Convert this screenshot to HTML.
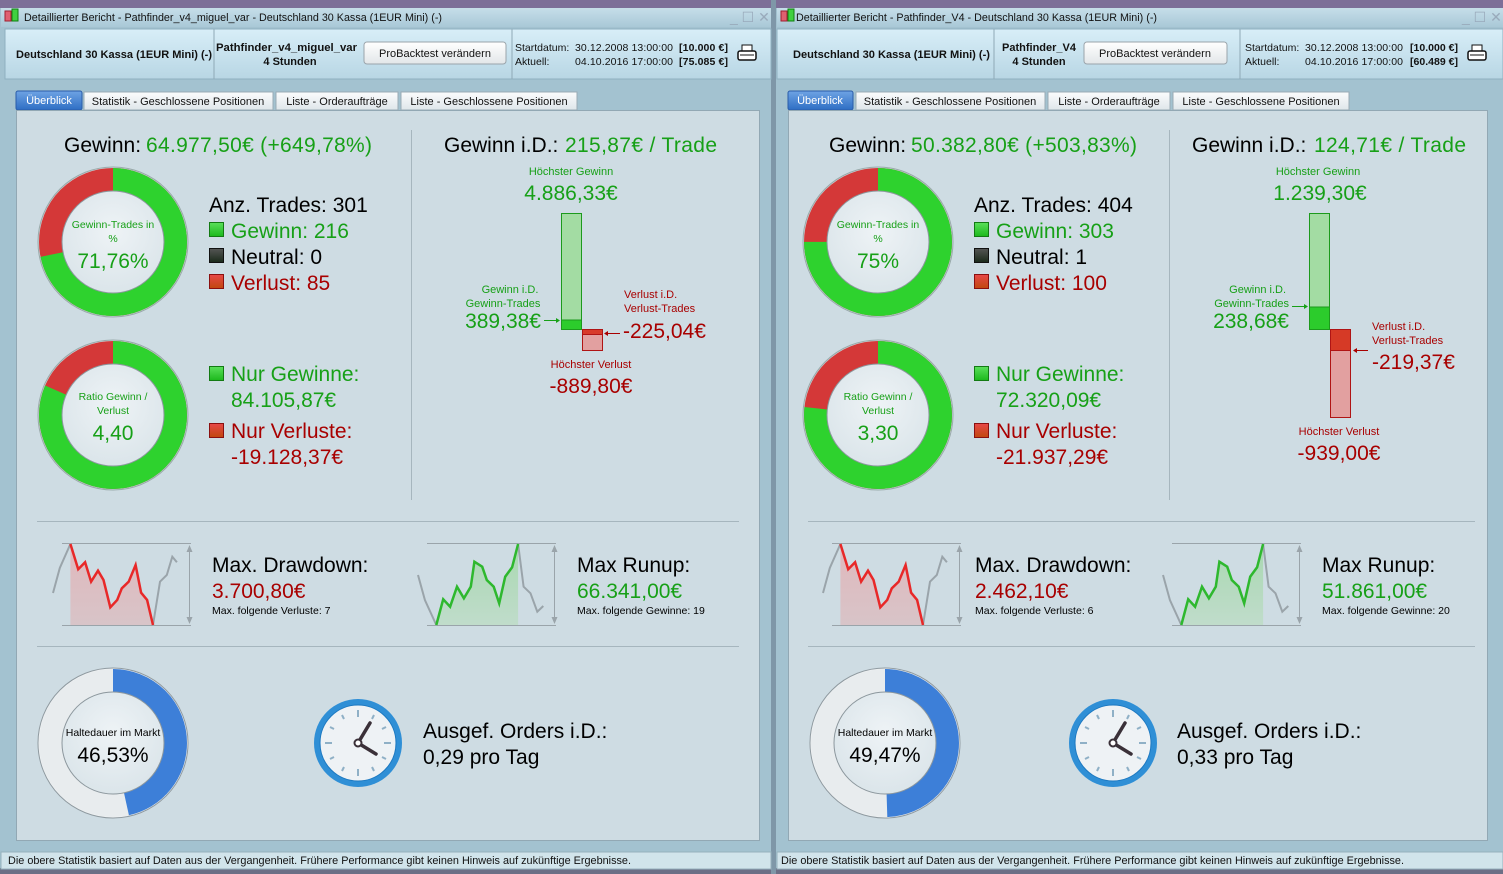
<!DOCTYPE html>
<html><head><meta charset="utf-8"><style>
html,body{margin:0;padding:0;width:1503px;height:874px;overflow:hidden;background:#a4c1cf}
svg{display:block;font-family:"Liberation Sans",Arial,sans-serif}
</style></head><body>
<svg width="1503" height="874" viewBox="0 0 1503 874" xmlns="http://www.w3.org/2000/svg">
<defs>
<linearGradient id="tb" x1="0" y1="0" x2="0" y2="1"><stop offset="0" stop-color="#c6dee9"/><stop offset="1" stop-color="#a9c8d7"/></linearGradient>
<linearGradient id="hp" x1="0" y1="0" x2="0" y2="1"><stop offset="0" stop-color="#d8eef8"/><stop offset="1" stop-color="#b8d6e4"/></linearGradient>
<linearGradient id="btn" x1="0" y1="0" x2="0" y2="1"><stop offset="0" stop-color="#ffffff"/><stop offset="1" stop-color="#e2e6e9"/></linearGradient>
<linearGradient id="tab" x1="0" y1="0" x2="0" y2="1"><stop offset="0" stop-color="#fbfcfd"/><stop offset="1" stop-color="#dfe6ea"/></linearGradient>
<linearGradient id="tabA" x1="0" y1="0" x2="0" y2="1"><stop offset="0" stop-color="#6ea3e4"/><stop offset="1" stop-color="#2e6ec4"/></linearGradient>
<linearGradient id="gsq" x1="0" y1="0" x2="0" y2="1"><stop offset="0" stop-color="#5be05b"/><stop offset="1" stop-color="#1cb81c"/></linearGradient>
<linearGradient id="rsq" x1="0" y1="0" x2="0" y2="1"><stop offset="0" stop-color="#e84848"/><stop offset="1" stop-color="#c0480e"/></linearGradient>
<linearGradient id="nsq" x1="0" y1="0" x2="0" y2="1"><stop offset="0" stop-color="#555"/><stop offset="1" stop-color="#1a2a1a"/></linearGradient>
<radialGradient id="inner" cx="0.5" cy="0.4" r="0.6"><stop offset="0" stop-color="#eef3f6"/><stop offset="1" stop-color="#dbe5ea"/></radialGradient>
<linearGradient id="ddf" x1="0" y1="0" x2="0" y2="1"><stop offset="0" stop-color="#e0b8bc"/><stop offset="1" stop-color="#d8c4c8"/></linearGradient>
<linearGradient id="ruf" x1="0" y1="0" x2="0" y2="1"><stop offset="0" stop-color="#a8d8b0"/><stop offset="1" stop-color="#c0dccb"/></linearGradient>
</defs>

<!-- desktop strips -->
<rect x="0" y="0" width="1503" height="8" fill="#7d6f98"/>
<rect x="0" y="868" width="1503" height="6" fill="#6c6f86"/>
<rect x="771" y="0" width="5" height="874" fill="#7f97a8"/>

<!-- ================= LEFT WINDOW ================= -->
<rect x="0" y="8" width="771" height="860" fill="#a3c2d0"/>
<rect x="1" y="8" width="770" height="19" fill="url(#tb)"/>
<rect x="5" y="11" width="6" height="10" fill="#e06070" stroke="#a02030" stroke-width="1"/>
<rect x="12" y="9" width="6" height="12" fill="#40d040" stroke="#108010" stroke-width="1"/>
<text x="24" y="21" font-size="11" fill="#111" textLength="418" lengthAdjust="spacingAndGlyphs">Detaillierter Bericht - Pathfinder_v4_miguel_var - Deutschland 30 Kassa (1EUR Mini) (-)</text>
<text x="730" y="22" font-size="14" fill="#9ab">_ ☐ ✕</text>

<rect x="5" y="29" width="766" height="50" fill="url(#hp)" stroke="#8fb0c0"/>
<line x1="214" y1="29" x2="214" y2="79" stroke="#8fa9b6"/>
<line x1="512" y1="29" x2="512" y2="79" stroke="#8fa9b6"/>
<text x="16" y="58" font-size="11" font-weight="bold" fill="#111" textLength="196" lengthAdjust="spacingAndGlyphs">Deutschland 30 Kassa (1EUR Mini) (-)</text>
<text x="216" y="51" font-size="11" font-weight="bold" fill="#111" textLength="141" lengthAdjust="spacingAndGlyphs">Pathfinder_v4_miguel_var</text>
<text x="290" y="65" font-size="11" font-weight="bold" fill="#111" text-anchor="middle">4 Stunden</text>
<rect x="364" y="42" width="142" height="22" rx="3" fill="url(#btn)" stroke="#9aa4aa"/>
<text x="435" y="57" font-size="11" fill="#111" text-anchor="middle">ProBacktest verändern</text>
<text x="515" y="51" font-size="10.5" fill="#111">Startdatum:</text>
<text x="515" y="65" font-size="10.5" fill="#111">Aktuell:</text>
<text x="575" y="51" font-size="10.5" fill="#111" textLength="98">30.12.2008 13:00:00</text>
<text x="575" y="65" font-size="10.5" fill="#111" textLength="98">04.10.2016 17:00:00</text>
<text x="679" y="51" font-size="10.5" font-weight="bold" fill="#111" textLength="49">[10.000 €]</text>
<text x="679" y="65" font-size="10.5" font-weight="bold" fill="#111" textLength="49">[75.085 €]</text>
<g transform="translate(738,45)"><rect x="4" y="0" width="10" height="7" fill="#fff" stroke="#111"/><rect x="0" y="6" width="18" height="9" rx="2" fill="#fff" stroke="#111" stroke-width="1.5"/><line x1="2" y1="10" x2="16" y2="10" stroke="#111"/></g>

<!-- tabs -->
<rect x="16" y="91" width="66" height="19" rx="2" fill="url(#tabA)" stroke="#2a5ca8"/>
<text x="49" y="104" font-size="11" fill="#fff" text-anchor="middle">Überblick</text>
<rect x="84" y="92" width="189" height="18" fill="url(#tab)" stroke="#9aabb5"/>
<text x="178" y="105" font-size="11" fill="#111" text-anchor="middle">Statistik - Geschlossene Positionen</text>
<rect x="276" y="92" width="122" height="18" fill="url(#tab)" stroke="#9aabb5"/>
<text x="337" y="105" font-size="11" fill="#111" text-anchor="middle">Liste - Orderaufträge</text>
<rect x="401" y="92" width="176" height="18" fill="url(#tab)" stroke="#9aabb5"/>
<text x="489" y="105" font-size="11" fill="#111" text-anchor="middle">Liste - Geschlossene Positionen</text>

<rect x="16.5" y="110.5" width="743" height="730" fill="#cedce3" stroke="#92a8b4"/>
<rect x="1" y="852" width="770" height="17" fill="#d1e4eb" stroke="#96b1bd"/>
<text x="8" y="864" font-size="11" fill="#111" textLength="623" lengthAdjust="spacingAndGlyphs">Die obere Statistik basiert auf Daten aus der Vergangenheit. Frühere Performance gibt keinen Hinweis auf zukünftige Ergebnisse.</text>

<line x1="411.5" y1="130" x2="411.5" y2="500" stroke="#a6b6be"/>
<line x1="37" y1="521.5" x2="739" y2="521.5" stroke="#a6b6be"/>
<line x1="37" y1="646.5" x2="739" y2="646.5" stroke="#a6b6be"/>

<!-- top-left block L -->
<g id="tlL">
<text x="64" y="152" font-size="21" fill="#000">Gewinn:</text>
<text x="146" y="152" font-size="21" fill="#17a017" textLength="226">64.977,50€ (+649,78%)</text>
<circle cx="113" cy="242" r="75" fill="#ccd6dc" stroke="#9aa" />
<circle cx="113" cy="242" r="62.5" fill="none" stroke="#d43838" stroke-width="23"/>
<circle cx="113" cy="242" r="62.5" fill="none" stroke="#2ed22e" stroke-width="23" stroke-dasharray="281.8 400" transform="rotate(-90 113 242)"/>
<circle cx="113" cy="242" r="51" fill="url(#inner)" stroke="#8c979d"/>
<text x="113" y="228" font-size="10.5" fill="#17a017" text-anchor="middle">Gewinn-Trades in</text>
<text x="113" y="242" font-size="10.5" fill="#17a017" text-anchor="middle">%</text>
<text x="113" y="268" font-size="21" fill="#17a017" text-anchor="middle">71,76%</text>
<text x="209" y="212" font-size="21" fill="#000">Anz. Trades: 301</text>
<rect x="209.5" y="222.5" width="14" height="14" fill="url(#gsq)" stroke="#137a13"/>
<text x="231" y="238" font-size="21" fill="#17a017">Gewinn: 216</text>
<rect x="209.5" y="248.5" width="14" height="14" fill="url(#nsq)" stroke="#111"/>
<text x="231" y="264" font-size="21" fill="#000">Neutral: 0</text>
<rect x="209.5" y="274.5" width="14" height="14" fill="url(#rsq)" stroke="#8a1010"/>
<text x="231" y="290" font-size="21" fill="#a80000">Verlust: 85</text>

<circle cx="113" cy="415" r="75" fill="#ccd6dc" stroke="#9aa"/>
<circle cx="113" cy="415" r="62.5" fill="none" stroke="#d43838" stroke-width="23"/>
<circle cx="113" cy="415" r="62.5" fill="none" stroke="#2ed22e" stroke-width="23" stroke-dasharray="320 400" transform="rotate(-90 113 415)"/>
<circle cx="113" cy="415" r="51" fill="url(#inner)" stroke="#8c979d"/>
<text x="113" y="400" font-size="10.5" fill="#17a017" text-anchor="middle">Ratio Gewinn /</text>
<text x="113" y="414" font-size="10.5" fill="#17a017" text-anchor="middle">Verlust</text>
<text x="113" y="440" font-size="21" fill="#17a017" text-anchor="middle">4,40</text>
<rect x="209.5" y="366.5" width="14" height="14" fill="url(#gsq)" stroke="#137a13"/>
<text x="231" y="381" font-size="21" fill="#17a017">Nur Gewinne:</text>
<text x="231" y="407" font-size="21" fill="#17a017">84.105,87€</text>
<rect x="209.5" y="423.5" width="14" height="14" fill="url(#rsq)" stroke="#8a1010"/>
<text x="231" y="438" font-size="21" fill="#a80000">Nur Verluste:</text>
<text x="231" y="464" font-size="21" fill="#a80000">-19.128,37€</text>
</g>

<!-- bar chart L -->
<text x="444" y="152" font-size="21" fill="#000">Gewinn i.D.:</text>
<text x="565" y="152" font-size="21" fill="#17a017" textLength="152">215,87€ / Trade</text>
<text x="571" y="175" font-size="11" fill="#17a017" text-anchor="middle">Höchster Gewinn</text>
<text x="571" y="200" font-size="21" fill="#17a017" text-anchor="middle">4.886,33€</text>
<rect x="561.5" y="213.5" width="20" height="116" fill="#a3dca3" stroke="#1c9a1c"/>
<rect x="562" y="320" width="19" height="9" fill="#2ccc2c"/>
<line x1="561" y1="320" x2="582" y2="320" stroke="#1c9a1c"/>
<rect x="582.5" y="329.5" width="20" height="21" fill="#e2a0a0" stroke="#b01414"/>
<rect x="583" y="330" width="19" height="4.5" fill="#d83a2a"/>
<line x1="582" y1="334.5" x2="603" y2="334.5" stroke="#b01414"/>
<text x="510" y="293" font-size="11" fill="#17a017" text-anchor="middle">Gewinn i.D.</text>
<text x="503" y="307" font-size="11" fill="#17a017" text-anchor="middle">Gewinn-Trades</text>
<text x="541" y="328" font-size="21" fill="#17a017" text-anchor="end">389,38€</text>
<line x1="544" y1="320.5" x2="558" y2="320.5" stroke="#17a017"/><path d="M556 318 L560 320.5 L556 323 Z" fill="#17a017"/>
<text x="624" y="298" font-size="11" fill="#a80000">Verlust i.D.</text>
<text x="624" y="312" font-size="11" fill="#a80000">Verlust-Trades</text>
<text x="623" y="338" font-size="21" fill="#a80000">-225,04€</text>
<line x1="606" y1="333.5" x2="620" y2="333.5" stroke="#a80000"/><path d="M608 331 L604 333.5 L608 336 Z" fill="#a80000"/>
<text x="591" y="368" font-size="11" fill="#a80000" text-anchor="middle">Höchster Verlust</text>
<text x="591" y="393" font-size="21" fill="#a80000" text-anchor="middle">-889,80€</text>

<!-- drawdown L -->
<g id="ddL">
<line x1="62" y1="543.5" x2="191" y2="543.5" stroke="#9aa4aa"/>
<line x1="62" y1="625.5" x2="191" y2="625.5" stroke="#9aa4aa"/>
<line x1="189.5" y1="546" x2="189.5" y2="623" stroke="#9aa4aa"/>
<path d="M186.5 552 L189.5 545 L192.5 552 Z M186.5 617 L189.5 624 L192.5 617 Z" fill="#9aa4aa"/>
<polygon points="70.4,544 78.2,569.3 85.1,562.3 91.1,581.7 98,570.7 103.5,580 110.3,607.3 117.2,600 121.8,588.3 128.7,581.7 135.6,565 141.1,592.7 147.1,600 153,625 70.4,625" fill="url(#ddf)"/>
<polyline points="53,593 59.8,568 70.4,544" fill="none" stroke="#9aa4aa" stroke-width="2"/>
<polyline points="153,625 160,581.7 166.8,575 172.3,556.7 176.9,562.3" fill="none" stroke="#9aa4aa" stroke-width="2"/>
<polyline points="70.4,544 78.2,569.3 85.1,562.3 91.1,581.7 98,570.7 103.5,580 110.3,607.3 117.2,600 121.8,588.3 128.7,581.7 135.6,565 141.1,592.7 147.1,600 153,625" fill="none" stroke="#e82828" stroke-width="2.5"/>
</g>
<text x="212" y="572" font-size="21" fill="#000">Max. Drawdown:</text>
<text x="212" y="598" font-size="21" fill="#a80000">3.700,80€</text>
<text x="212" y="614" font-size="10.5" fill="#000">Max. folgende Verluste: 7</text>

<!-- runup L -->
<g id="ruL">
<line x1="427" y1="543.5" x2="556" y2="543.5" stroke="#9aa4aa"/>
<line x1="427" y1="625.5" x2="556" y2="625.5" stroke="#9aa4aa"/>
<line x1="554.5" y1="546" x2="554.5" y2="623" stroke="#9aa4aa"/>
<path d="M551.5 552 L554.5 545 L557.5 552 Z M551.5 617 L554.5 624 L557.5 617 Z" fill="#9aa4aa"/>
<polygon points="436.3,625 443.2,599.3 450.1,606.7 457,586.7 463.9,598.3 470.8,586.7 474.4,561.7 482.2,566.7 486.8,580 493.7,586.7 499.2,603.3 505.2,576.7 512.1,567.3 518.1,544 518.1,625" fill="url(#ruf)"/>
<polyline points="418,575 424.9,600 436.3,625" fill="none" stroke="#9aa4aa" stroke-width="2"/>
<polyline points="518.1,544 523.6,586.7 530.5,593.3 537.3,611.7 543.3,606" fill="none" stroke="#9aa4aa" stroke-width="2"/>
<polyline points="436.3,625 443.2,599.3 450.1,606.7 457,586.7 463.9,598.3 470.8,586.7 474.4,561.7 482.2,566.7 486.8,580 493.7,586.7 499.2,603.3 505.2,576.7 512.1,567.3 518.1,544" fill="none" stroke="#2eb82e" stroke-width="2.5"/>
</g>
<text x="577" y="572" font-size="21" fill="#000">Max Runup:</text>
<text x="577" y="598" font-size="21" fill="#17a017">66.341,00€</text>
<text x="577" y="614" font-size="10.5" fill="#000">Max. folgende Gewinne: 19</text>

<!-- haltedauer L -->
<g id="hdL">
<circle cx="113" cy="743" r="75" fill="#f2f4f5" stroke="#8f9aa0"/>
<circle cx="113" cy="743" r="62.5" fill="none" stroke="#e8ecee" stroke-width="23"/>
<circle cx="113" cy="743" r="62.5" fill="none" stroke="#3d7fd8" stroke-width="23" stroke-dasharray="182.7 400" transform="rotate(-90 113 743)"/>
<circle cx="113" cy="743" r="51" fill="url(#inner)" stroke="#8c979d"/>
</g>
<text x="113" y="736" font-size="10.5" fill="#000" text-anchor="middle">Haltedauer im Markt</text>
<text x="113" y="762" font-size="21" fill="#000" text-anchor="middle">46,53%</text>

<!-- clock L -->
<g id="ckL" transform="translate(358,743)">
<circle r="44" fill="#2f8fd6"/>
<circle r="38" fill="#eef2f5" stroke="#1c78c0"/>
<g stroke="#8fb0c6" stroke-width="2">
<line x1="0" y1="-33" x2="0" y2="-26"/><line x1="0" y1="33" x2="0" y2="26"/><line x1="-33" y1="0" x2="-26" y2="0"/><line x1="33" y1="0" x2="26" y2="0"/>
<line x1="16" y1="-28" x2="14" y2="-24"/><line x1="28" y1="-16" x2="24" y2="-14"/><line x1="28" y1="16" x2="24" y2="14"/><line x1="16" y1="28" x2="14" y2="24"/>
<line x1="-16" y1="28" x2="-14" y2="24"/><line x1="-28" y1="16" x2="-24" y2="14"/><line x1="-28" y1="-16" x2="-24" y2="-14"/><line x1="-16" y1="-28" x2="-14" y2="-24"/>
</g>
<line x1="0" y1="0" x2="12" y2="-20" stroke="#3a3038" stroke-width="3.5" stroke-linecap="round"/>
<line x1="0" y1="0" x2="18" y2="11" stroke="#3a3038" stroke-width="3.5" stroke-linecap="round"/>
<circle r="3.5" fill="#fff" stroke="#3a3038" stroke-width="2"/>
</g>
<text x="423" y="738" font-size="21" fill="#000">Ausgef. Orders i.D.:</text>
<text x="423" y="764" font-size="21" fill="#000">0,29 pro Tag</text>

<!-- ================= RIGHT WINDOW ================= -->
<rect x="776" y="8" width="727" height="860" fill="#a3c2d0"/>
<rect x="777" y="8" width="726" height="19" fill="url(#tb)"/>
<rect x="781" y="11" width="6" height="10" fill="#e06070" stroke="#a02030"/>
<rect x="788" y="9" width="6" height="12" fill="#40d040" stroke="#108010"/>
<text x="796" y="21" font-size="11" fill="#111" textLength="361" lengthAdjust="spacingAndGlyphs">Detaillierter Bericht - Pathfinder_V4 - Deutschland 30 Kassa (1EUR Mini) (-)</text>
<text x="1462" y="22" font-size="14" fill="#9ab">_ ☐ ✕</text>

<rect x="777" y="29" width="726" height="50" fill="url(#hp)" stroke="#8fb0c0"/>
<line x1="994" y1="29" x2="994" y2="79" stroke="#8fa9b6"/>
<line x1="1240" y1="29" x2="1240" y2="79" stroke="#8fa9b6"/>
<text x="793" y="58" font-size="11" font-weight="bold" fill="#111" textLength="197" lengthAdjust="spacingAndGlyphs">Deutschland 30 Kassa (1EUR Mini) (-)</text>
<text x="1039" y="51" font-size="11" font-weight="bold" fill="#111" text-anchor="middle">Pathfinder_V4</text>
<text x="1039" y="65" font-size="11" font-weight="bold" fill="#111" text-anchor="middle">4 Stunden</text>
<rect x="1084" y="42" width="143" height="22" rx="3" fill="url(#btn)" stroke="#9aa4aa"/>
<text x="1155" y="57" font-size="11" fill="#111" text-anchor="middle">ProBacktest verändern</text>
<text x="1245" y="51" font-size="10.5" fill="#111">Startdatum:</text>
<text x="1245" y="65" font-size="10.5" fill="#111">Aktuell:</text>
<text x="1305" y="51" font-size="10.5" fill="#111" textLength="98">30.12.2008 13:00:00</text>
<text x="1305" y="65" font-size="10.5" fill="#111" textLength="98">04.10.2016 17:00:00</text>
<text x="1410" y="51" font-size="10.5" font-weight="bold" fill="#111" textLength="48">[10.000 €]</text>
<text x="1410" y="65" font-size="10.5" font-weight="bold" fill="#111" textLength="48">[60.489 €]</text>
<g transform="translate(1468,45)"><rect x="4" y="0" width="10" height="7" fill="#fff" stroke="#111"/><rect x="0" y="6" width="18" height="9" rx="2" fill="#fff" stroke="#111" stroke-width="1.5"/><line x1="2" y1="10" x2="16" y2="10" stroke="#111"/></g>

<rect x="788" y="91" width="65" height="19" rx="2" fill="url(#tabA)" stroke="#2a5ca8"/>
<text x="820" y="104" font-size="11" fill="#fff" text-anchor="middle">Überblick</text>
<rect x="856" y="92" width="189" height="18" fill="url(#tab)" stroke="#9aabb5"/>
<text x="950" y="105" font-size="11" fill="#111" text-anchor="middle">Statistik - Geschlossene Positionen</text>
<rect x="1048" y="92" width="122" height="18" fill="url(#tab)" stroke="#9aabb5"/>
<text x="1109" y="105" font-size="11" fill="#111" text-anchor="middle">Liste - Orderaufträge</text>
<rect x="1173" y="92" width="176" height="18" fill="url(#tab)" stroke="#9aabb5"/>
<text x="1261" y="105" font-size="11" fill="#111" text-anchor="middle">Liste - Geschlossene Positionen</text>

<rect x="788.5" y="110.5" width="699" height="730" fill="#cedce3" stroke="#92a8b4"/>
<rect x="777" y="852" width="726" height="17" fill="#d1e4eb" stroke="#96b1bd"/>
<text x="781" y="864" font-size="11" fill="#111" textLength="623" lengthAdjust="spacingAndGlyphs">Die obere Statistik basiert auf Daten aus der Vergangenheit. Frühere Performance gibt keinen Hinweis auf zukünftige Ergebnisse.</text>

<line x1="1169.5" y1="130" x2="1169.5" y2="500" stroke="#a6b6be"/>
<line x1="808" y1="521.5" x2="1475" y2="521.5" stroke="#a6b6be"/>
<line x1="808" y1="646.5" x2="1475" y2="646.5" stroke="#a6b6be"/>

<g transform="translate(765,0)">
<text x="64" y="152" font-size="21" fill="#000">Gewinn:</text>
<text x="146" y="152" font-size="21" fill="#17a017" textLength="226">50.382,80€ (+503,83%)</text>
<circle cx="113" cy="242" r="75" fill="#ccd6dc" stroke="#9aa"/>
<circle cx="113" cy="242" r="62.5" fill="none" stroke="#d43838" stroke-width="23"/>
<circle cx="113" cy="242" r="62.5" fill="none" stroke="#2ed22e" stroke-width="23" stroke-dasharray="294.5 400" transform="rotate(-90 113 242)"/>
<circle cx="113" cy="242" r="51" fill="url(#inner)" stroke="#8c979d"/>
<text x="113" y="228" font-size="10.5" fill="#17a017" text-anchor="middle">Gewinn-Trades in</text>
<text x="113" y="242" font-size="10.5" fill="#17a017" text-anchor="middle">%</text>
<text x="113" y="268" font-size="21" fill="#17a017" text-anchor="middle">75%</text>
<text x="209" y="212" font-size="21" fill="#000">Anz. Trades: 404</text>
<rect x="209.5" y="222.5" width="14" height="14" fill="url(#gsq)" stroke="#137a13"/>
<text x="231" y="238" font-size="21" fill="#17a017">Gewinn: 303</text>
<rect x="209.5" y="248.5" width="14" height="14" fill="url(#nsq)" stroke="#111"/>
<text x="231" y="264" font-size="21" fill="#000">Neutral: 1</text>
<rect x="209.5" y="274.5" width="14" height="14" fill="url(#rsq)" stroke="#8a1010"/>
<text x="231" y="290" font-size="21" fill="#a80000">Verlust: 100</text>
<circle cx="113" cy="415" r="75" fill="#ccd6dc" stroke="#9aa"/>
<circle cx="113" cy="415" r="62.5" fill="none" stroke="#d43838" stroke-width="23"/>
<circle cx="113" cy="415" r="62.5" fill="none" stroke="#2ed22e" stroke-width="23" stroke-dasharray="301.2 400" transform="rotate(-90 113 415)"/>
<circle cx="113" cy="415" r="51" fill="url(#inner)" stroke="#8c979d"/>
<text x="113" y="400" font-size="10.5" fill="#17a017" text-anchor="middle">Ratio Gewinn /</text>
<text x="113" y="414" font-size="10.5" fill="#17a017" text-anchor="middle">Verlust</text>
<text x="113" y="440" font-size="21" fill="#17a017" text-anchor="middle">3,30</text>
<rect x="209.5" y="366.5" width="14" height="14" fill="url(#gsq)" stroke="#137a13"/>
<text x="231" y="381" font-size="21" fill="#17a017">Nur Gewinne:</text>
<text x="231" y="407" font-size="21" fill="#17a017">72.320,09€</text>
<rect x="209.5" y="423.5" width="14" height="14" fill="url(#rsq)" stroke="#8a1010"/>
<text x="231" y="438" font-size="21" fill="#a80000">Nur Verluste:</text>
<text x="231" y="464" font-size="21" fill="#a80000">-21.937,29€</text>
</g>

<!-- bar chart R -->
<text x="1192" y="152" font-size="21" fill="#000">Gewinn i.D.:</text>
<text x="1314" y="152" font-size="21" fill="#17a017" textLength="152">124,71€ / Trade</text>
<text x="1318" y="175" font-size="11" fill="#17a017" text-anchor="middle">Höchster Gewinn</text>
<text x="1320" y="200" font-size="21" fill="#17a017" text-anchor="middle">1.239,30€</text>
<rect x="1309.5" y="213.5" width="20" height="116" fill="#a3dca3" stroke="#1c9a1c"/>
<rect x="1310" y="307" width="19" height="22" fill="#2ccc2c"/>
<line x1="1309" y1="307" x2="1330" y2="307" stroke="#1c9a1c"/>
<rect x="1330.5" y="329.5" width="20" height="88" fill="#e2a0a0" stroke="#b01414"/>
<rect x="1331" y="330" width="19" height="20.5" fill="#d63a26"/>
<line x1="1330" y1="350.5" x2="1351" y2="350.5" stroke="#b01414"/>
<text x="1286" y="293" font-size="11" fill="#17a017" text-anchor="end">Gewinn i.D.</text>
<text x="1289" y="307" font-size="11" fill="#17a017" text-anchor="end">Gewinn-Trades</text>
<text x="1289" y="328" font-size="21" fill="#17a017" text-anchor="end">238,68€</text>
<line x1="1292" y1="306.5" x2="1306" y2="306.5" stroke="#17a017"/><path d="M1304 304 L1308 306.5 L1304 309 Z" fill="#17a017"/>
<text x="1372" y="330" font-size="11" fill="#a80000">Verlust i.D.</text>
<text x="1372" y="344" font-size="11" fill="#a80000">Verlust-Trades</text>
<text x="1372" y="369" font-size="21" fill="#a80000">-219,37€</text>
<line x1="1355" y1="350.5" x2="1368" y2="350.5" stroke="#a80000"/><path d="M1357 348 L1353 350.5 L1357 353 Z" fill="#a80000"/>
<text x="1339" y="435" font-size="11" fill="#a80000" text-anchor="middle">Höchster Verlust</text>
<text x="1339" y="460" font-size="21" fill="#a80000" text-anchor="middle">-939,00€</text>

<use href="#ddL" transform="translate(770,0)"/>
<text x="975" y="572" font-size="21" fill="#000">Max. Drawdown:</text>
<text x="975" y="598" font-size="21" fill="#a80000">2.462,10€</text>
<text x="975" y="614" font-size="10.5" fill="#000">Max. folgende Verluste: 6</text>
<use href="#ruL" transform="translate(745,0)"/>
<text x="1322" y="572" font-size="21" fill="#000">Max Runup:</text>
<text x="1322" y="598" font-size="21" fill="#17a017">51.861,00€</text>
<text x="1322" y="614" font-size="10.5" fill="#000">Max. folgende Gewinne: 20</text>

<g transform="translate(772,0)">
<circle cx="113" cy="743" r="75" fill="#f2f4f5" stroke="#8f9aa0"/>
<circle cx="113" cy="743" r="62.5" fill="none" stroke="#e8ecee" stroke-width="23"/>
<circle cx="113" cy="743" r="62.5" fill="none" stroke="#3d7fd8" stroke-width="23" stroke-dasharray="194.3 400" transform="rotate(-90 113 743)"/>
<circle cx="113" cy="743" r="51" fill="url(#inner)" stroke="#8c979d"/>
<text x="113" y="736" font-size="10.5" fill="#000" text-anchor="middle">Haltedauer im Markt</text>
<text x="113" y="762" font-size="21" fill="#000" text-anchor="middle">49,47%</text>
</g>
<use href="#ckL" transform="translate(755,0)"/>
<text x="1177" y="738" font-size="21" fill="#000">Ausgef. Orders i.D.:</text>
<text x="1177" y="764" font-size="21" fill="#000">0,33 pro Tag</text>
</svg>
</body></html>
